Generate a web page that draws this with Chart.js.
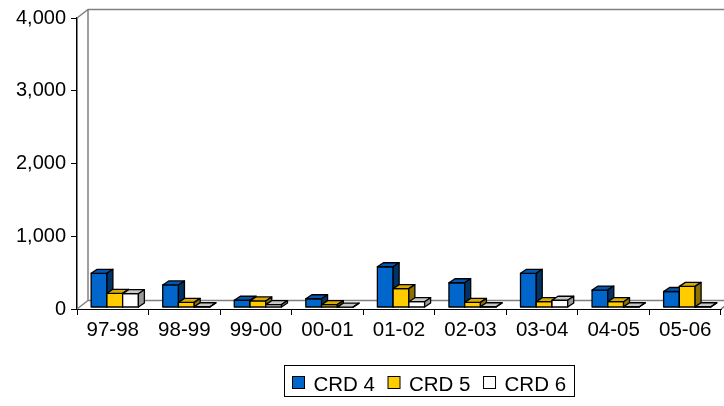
<!DOCTYPE html>
<html>
<head>
<meta charset="utf-8">
<script src="https://cdn.jsdelivr.net/npm/chart.js@4.4.0/dist/chart.umd.min.js"></script>
<style>
  html, body { margin: 0; padding: 0; background: #fff; }
</style>
</head>
<body>
<canvas id="crdChart" width="724" height="406"></canvas>
<script>
// data
const seasons = ['97-98', '98-99', '99-00', '00-01', '01-02', '02-03', '03-04', '04-05', '05-06'];
const seriesNames = ['CRD 4', 'CRD 5', 'CRD 6'];
const crd4 = [470, 310, 100, 120, 560, 340, 470, 240, 220];
const crd5 = [195, 70, 90, 40, 260, 70, 80, 80, 290];
const crd6 = [190, 10, 40, 5, 80, 10, 100, 10, 10];
const yMin = 0, yMax = 4000, yStep = 1000;

// look of the fake 3d
const faces = [
    { front: '#0066CC', top: '#0058B4', side: '#003366' },
    { front: '#FFCC00', top: '#D9AA00', side: '#8C7000' },
    { front: '#FFFFFF', top: '#C8C8C8', side: '#999999' }
];
const WALL_DX = 11, WALL_DY = -8.5;
const BAR_DX = 6, BAR_DY = -4;
const BAR_SHIFT_X = 2, BAR_SHIFT_Y = -1.5;
const FONT = '"Liberation Sans", Arial, sans-serif';

const poly = (ctx, pts, fill) => {
    ctx.beginPath();
    ctx.moveTo(pts[0][0], pts[0][1]);
    for (let i = 1; i < pts.length; i++) ctx.lineTo(pts[i][0], pts[i][1]);
    ctx.closePath();
    ctx.fillStyle = fill;
    ctx.fill();
    ctx.stroke();
};

const box3d = {
    id: 'box3d',
    beforeDatasetsDraw(chart) {
        const { ctx, chartArea: a } = chart;
        ctx.save();

        // back wall and floor
        ctx.strokeStyle = '#808080';
        ctx.lineWidth = 1.5;
        ctx.beginPath();
        ctx.moveTo(a.left, a.top);
        ctx.lineTo(a.left + WALL_DX, a.top + WALL_DY);
        ctx.lineTo(a.right + WALL_DX, a.top + WALL_DY);
        ctx.lineTo(a.right + WALL_DX, a.bottom + WALL_DY);
        ctx.moveTo(a.left + WALL_DX, a.top + WALL_DY);
        ctx.lineTo(a.left + WALL_DX, a.bottom + WALL_DY);
        ctx.lineTo(a.right + WALL_DX, a.bottom + WALL_DY);
        ctx.moveTo(a.left, a.bottom);
        ctx.lineTo(a.left + WALL_DX, a.bottom + WALL_DY);
        ctx.moveTo(a.right, a.bottom);
        ctx.lineTo(a.right + WALL_DX, a.bottom + WALL_DY);
        ctx.stroke();

        // bars, first series first so later ones cover the sides
        ctx.translate(BAR_SHIFT_X, BAR_SHIFT_Y);
        ctx.strokeStyle = '#000';
        ctx.lineWidth = 1.3;
        ctx.lineJoin = 'round';
        chart.data.datasets.forEach((ds, i) => {
            const meta = chart.getDatasetMeta(i);
            if (meta.hidden) return;
            const f = faces[i];
            meta.data.forEach(bar => {
                const { x, y, base, width } = bar.getProps(['x', 'y', 'base', 'width'], true);
                const l = x - width / 2, r = x + width / 2;
                poly(ctx, [[l, base], [l, y], [r, y], [r, base]], f.front);
                poly(ctx, [[l, y], [l + BAR_DX, y + BAR_DY], [r + BAR_DX, y + BAR_DY], [r, y]], f.top);
                poly(ctx, [[r, y], [r + BAR_DX, y + BAR_DY], [r + BAR_DX, base + BAR_DY], [r, base]], f.side);
            });
        });
        ctx.restore();
        return false;
    },
    afterDraw(chart) {
        // boxed legend like the excel one
        const ctx = chart.ctx;
        const centerX = 428.5, top = 365.5, boxH = 31;
        const sq = 12, gapText = 9, gapItem = 13, padX = 8;
        ctx.save();
        ctx.font = '20.5px ' + FONT;
        const widths = seriesNames.map(n => ctx.measureText(n).width);
        const inner = widths.reduce((s, w) => s + sq + gapText + w, 0) + gapItem * (seriesNames.length - 1);
        const left = Math.round(centerX - inner / 2 - padX) + 0.5;
        ctx.strokeStyle = '#000';
        ctx.lineWidth = 1;
        ctx.strokeRect(left, top, Math.round(inner + padX * 2), boxH);

        let cx = left + padX;
        seriesNames.forEach((name, i) => {
            ctx.fillStyle = faces[i].front;
            ctx.fillRect(cx, top + 11, sq, sq);
            ctx.strokeRect(cx, top + 11, sq, sq);
            ctx.fillStyle = '#000';
            ctx.textBaseline = 'alphabetic';
            ctx.fillText(name, cx + sq + gapText, top + 25);
            cx += sq + gapText + widths[i] + gapItem;
        });
        ctx.restore();
    }
};

const ctx = document.getElementById('crdChart').getContext('2d');
const crdChart = new Chart(ctx, {
    type: 'bar',
    data: {
        labels: seasons,
        datasets: [
            { label: seriesNames[0], data: crd4, backgroundColor: faces[0].front },
            { label: seriesNames[1], data: crd5, backgroundColor: faces[1].front },
            { label: seriesNames[2], data: crd6, backgroundColor: faces[2].front }
        ]
    },
    options: {
        responsive: false,
        animation: false,
        layout: { padding: { top: 18, right: 3, left: 0, bottom: 0 } },
        datasets: { bar: { categoryPercentage: 0.66, barPercentage: 1 } },
        plugins: {
            legend: { display: false },
            tooltip: { enabled: false }
        },
        scales: {
            x: {
                afterFit: s => { s.height = 97; },
                grid: { drawOnChartArea: false, tickLength: 6, color: '#000' },
                border: { color: '#000', width: 1 },
                ticks: { color: '#000', font: { family: FONT, size: 20.5 }, maxRotation: 0, autoSkip: false, padding: 3 }
            },
            y: {
                min: yMin,
                max: yMax,
                afterFit: s => { s.width = 77; },
                grid: { drawOnChartArea: false, tickLength: 6, color: '#000' },
                border: { color: '#000', width: 1.5 },
                ticks: {
                    stepSize: yStep,
                    color: '#000',
                    padding: 5,
                    font: { family: FONT, size: 20 },
                    callback: v => v.toLocaleString('en-US')
                }
            }
        }
    },
    plugins: [box3d]
});
</script>
</body>
</html>
